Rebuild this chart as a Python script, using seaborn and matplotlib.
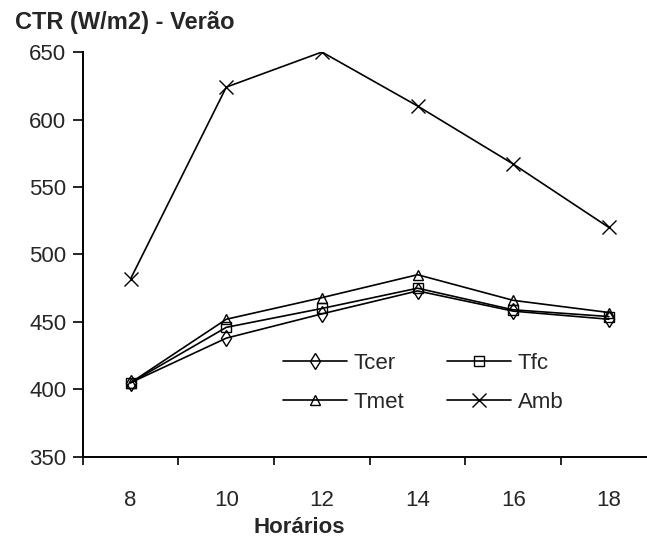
import seaborn as sns
import matplotlib.pyplot as plt
import pandas as pd

horarios = ["8", "10", "12", "14", "16", "18"]
tcer = [405, 438, 456, 473, 458, 452]
tfc = [405, 446, 460, 475, 459, 454]
tmet = [405, 452, 468, 485, 466, 457]
amb = [482, 624, 650, 610, 567, 520]
series = ["Tcer", "Tfc", "Tmet", "Amb"]
marker_list = ["d", "s", "^", "x"]
marker_sizes = [8, 6.5, 7.5, 10]

sns.set_style("white")
plt.rcParams['font.family'] = ['Liberation Sans', 'DejaVu Sans']

df = pd.DataFrame({"Horários": horarios * 4,
                   "CTR": tcer + tfc + tmet + amb,
                   "Serie": [s for s in series for _ in horarios]})

fig = plt.figure(figsize=(6.47, 5.42), dpi=100)
# plot area runs past the right edge, as in the cropped original
ax = fig.add_axes([0.128, 0.157, 0.887, 0.747])

ax = sns.pointplot(x="Horários", y="CTR", hue="Serie", data=df, ax=ax,
                   palette=["black"] * 4, markers=marker_list, errorbar=None,
                   linestyles="-", linewidth=1.2,
                   markerfacecolor="none", markeredgewidth=1.0)

sized = dict(zip(series, marker_sizes))
for line, ms in zip([l for l in ax.lines if l.get_marker() not in (None, "None", "")], marker_sizes):
    line.set_markersize(ms)

ax.set_xlim(-0.5, 5.5)
ax.set_ylim(350, 650)
ax.set_yticks(range(350, 651, 50))
ax.set_xticks([i - 0.5 for i in range(7)], minor=True)
ax.tick_params(axis="x", which="major", length=0, pad=24, labelsize=16)
ax.tick_params(axis="x", which="minor", length=6, width=1.2, direction="out", color="black", bottom=True)
ax.tick_params(axis="y", length=7, width=1.2, direction="out", color="black", labelsize=16, left=True, pad=5)
for s in ["top", "right"]:
    ax.spines[s].set_visible(False)
for s in ["left", "bottom"]:
    ax.spines[s].set_color("black")
    ax.spines[s].set_linewidth(1.4)

ax.set_xlabel("Horários", fontsize=16, fontweight="bold")
ax.xaxis.set_label_coords(0.378, -0.175)
ax.xaxis.label.set_va("center")
ax.set_ylabel("")
fig.text(0.023, 0.959, "CTR (W/m2) - Verão", fontsize=17, fontweight="bold", va="center")

handles, labels = ax.get_legend_handles_labels()
order = [0, 2, 1, 3]
leg = ax.legend([handles[i] for i in order], [labels[i] for i in order],
                loc="center left", bbox_to_anchor=(0.348, 0.183), ncol=2, frameon=False,
                fontsize=16, handlelength=2.9, columnspacing=1.9, labelspacing=0.8,
                handletextpad=0.3, borderpad=0, borderaxespad=0)
for h, t in zip(leg.legend_handles, leg.get_texts()):
    h.set_markersize(sized[t.get_text()])
    h.set_markerfacecolor("none")
    h.set_linewidth(1.2)

plt.savefig("out.png", dpi=100)
